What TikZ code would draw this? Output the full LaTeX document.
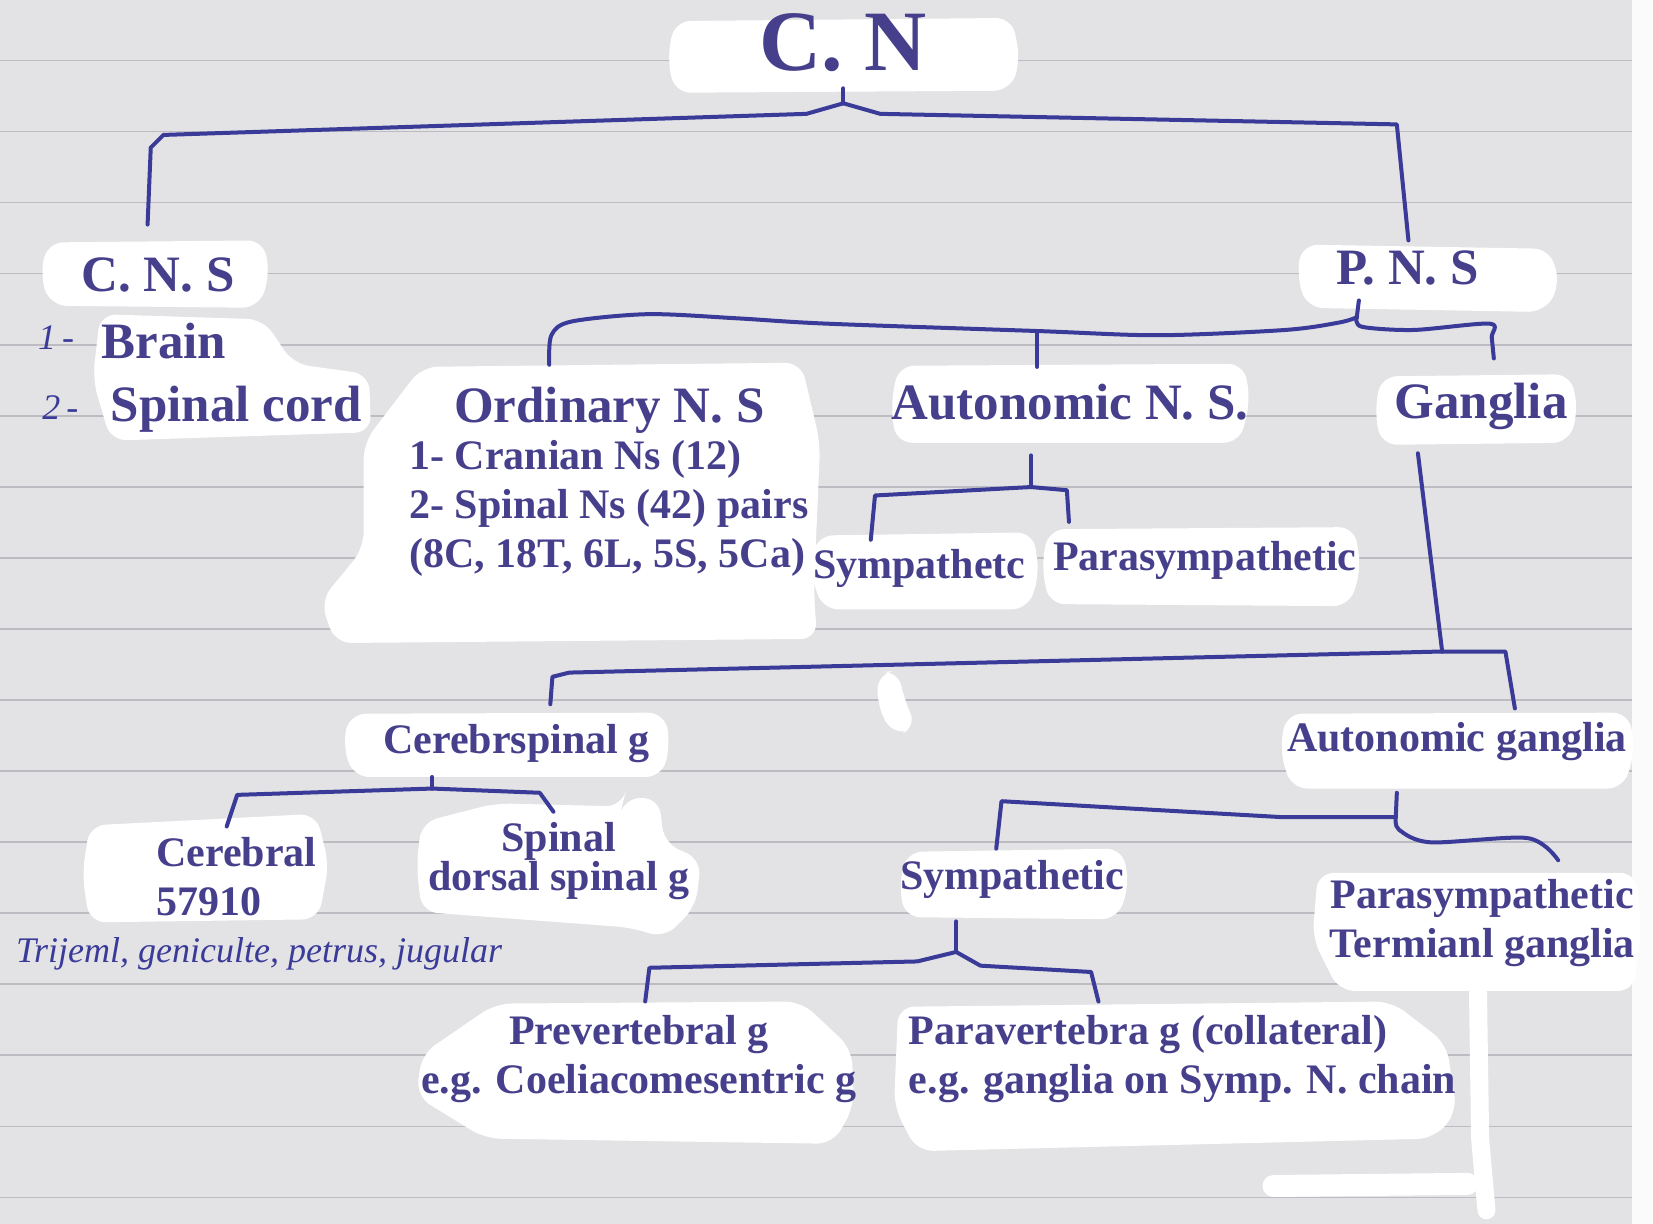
\documentclass[tikz,border=0pt]{standalone}
\usepackage{fontspec}
\setmainfont{Liberation Serif}
\definecolor{paper}{HTML}{E3E3E6}
\definecolor{ruling}{HTML}{BCBCC2}
\definecolor{ink}{HTML}{463F8C}
\definecolor{pen}{HTML}{3A3A98}
\tikzset{
  blob/.style={fill=white, rounded corners=16pt},
  lbl/.style={text=ink, inner sep=0pt, yshift=-4pt, font=\bfseries\fontsize{42}{49}\selectfont},
  big/.style={lbl, font=\bfseries\fontsize{51}{58}\selectfont},
  hand/.style={text=pen, inner sep=0pt, font=\itshape\fontsize{36}{38}\selectfont},
  conn/.style={draw=pen, line width=4pt, line join=round, line cap=round},
}
\begin{document}
\begin{tikzpicture}[x=1.054pt, y=-1.054pt]
    \useasboundingbox (0,0) rectangle (1568,1161);
    % paper
    \fill[paper] (0,0) rectangle (1568,1161);
    \fill[white!85!paper] (1548,0) rectangle (1568,1161);
    \foreach \k in {0,...,16}
        \draw[ruling, line width=1.6pt] (0,57.4+67.4*\k) -- (1548,57.4+67.4*\k);
    % white patches
    \fill[blob] (640,20) -- (960,17) -- (968,58) -- (958,86) -- (640,88) -- (633,55) -- cycle;
    \fill[blob] (45,230) -- (250,228) -- (256,262) -- (245,292) -- (48,290) -- (38,262) -- cycle;
    \fill[blob] (95,298) -- (250,303) -- (278,345) -- (350,355) -- (352,410) -- (105,418) -- (88,360) -- cycle;
    \fill[blob] (400,348) -- (760,344) -- (778,420) -- (772,560) -- (775,606) -- (318,610) -- (304,570) -- (345,520) -- (345,420) -- cycle;
    \fill[blob] (852,347) -- (1180,345) -- (1186,380) -- (1176,420) -- (850,420) -- (845,385) -- cycle;
    \fill[blob] (1310,357) -- (1490,355) -- (1497,390) -- (1488,420) -- (1310,422) -- (1304,390) -- cycle;
    \fill[blob] (1235,232) -- (1470,236) -- (1480,270) -- (1465,296) -- (1240,292) -- (1230,262) -- cycle;
    \fill[blob] (775,508) -- (980,505) -- (986,545) -- (975,578) -- (780,578) -- (768,540) -- cycle;
    \fill[blob] (995,502) -- (1285,500) -- (1291,540) -- (1280,575) -- (995,573) -- (988,535) -- cycle;
    \fill[blob] (332,677) -- (630,676) -- (636,705) -- (628,737) -- (335,737) -- (325,705) -- cycle;
    \fill[blob] (833,638) -- (852,636) -- (858,665) -- (870,690) -- (848,698) -- (832,670) -- cycle;
    \fill[blob] (85,783) -- (300,772) -- (312,820) -- (302,872) -- (85,875) -- (78,830) -- cycle;
    \fill[blob] (400,780) -- (470,762) -- (590,765) -- (592,757) -- (625,757) -- (630,800) -- (665,815) -- (660,860) -- (630,890) -- (600,880) -- (400,865) -- (395,820) -- cycle;
    \fill[blob] (1220,677) -- (1545,676) -- (1551,712) -- (1540,748) -- (1225,748) -- (1214,712) -- cycle;
    \fill[blob] (860,808) -- (1065,805) -- (1071,840) -- (1060,872) -- (858,870) -- (853,838) -- cycle;
    \fill[blob] (1250,828) -- (1552,828) -- (1557,880) -- (1550,940) -- (1270,940) -- (1245,890) -- cycle;
    \fill[blob] (470,952) -- (760,950) -- (808,995) -- (810,1050) -- (790,1085) -- (460,1080) -- (395,1040) -- (400,1000) -- cycle;
    \fill[blob] (852,955) -- (1320,950) -- (1372,990) -- (1382,1055) -- (1360,1080) -- (870,1092) -- (848,1050) -- cycle;
    \draw[white, line width=18pt, line cap=round] (1402,942) -- (1404,1080) -- (1410,1148);
    \draw[white, line width=22pt, line cap=round] (1208,1125) -- (1392,1123);
    % labels
    \node[lbl, font=\bfseries\fontsize{86}{90}\selectfont] (cn) at (800,37) {C. N};
    \node[lbl, font=\bfseries\fontsize{51}{55}\selectfont] (cns) at (150,257) {C. N. S};
    \node[lbl, font=\bfseries\fontsize{51}{55}\selectfont] (pns) at (1335,250) {P. N. S};
    \node[hand, anchor=west] (one) at (36,320) {1\,-};
    \node[big, anchor=west] (brain) at (96,320) {Brain};
    \node[hand, anchor=west] (two) at (40,387) {2\,-};
    \node[big, anchor=west] (spcord) at (105,384) {Spinal cord};
    \node[big] (ons) at (578,385) {Ordinary N. S};
    \node[lbl, anchor=north west, align=left] (onslist) at (388,414)
        {1- Cranian Ns (12)\\2- Spinal Ns (42) pairs\\(8C, 18T, 6L, 5S, 5Ca)};
    \node[big] (ans) at (1015,378) {Autonomic N. S.};
    \node[big] (gang) at (1405,382) {Ganglia};
    \node[lbl] (symA) at (872,535) {Sympathetc};
    \node[lbl] (paraA) at (1143,528) {Parasympathetic};
    \node[lbl] (csg) at (490,702) {Cerebrspinal g};
    \node[lbl, anchor=west, align=left] (cereb) at (148,828) {Cerebral\\57910};
    \node[lbl, align=center, font=\bfseries\fontsize{42}{39}\selectfont] (spin) at (530,813) {Spinal\\dorsal spinal g};
    \node[hand, anchor=west] (trig) at (15,905) {Trijeml, geniculte, petrus, jugular};
    \node[lbl] (autg) at (1382,700) {Autonomic ganglia};
    \node[lbl, align=center] (paraB) at (1406,872) {Parasympathetic\\Termianl ganglia};
    \node[lbl] (symB) at (960,830) {Sympathetic};
    \node[lbl, align=center] (prev) at (606,1001) {Prevertebral g\\e.g. Coeliacomesentric g};
    \node[lbl, anchor=west, align=left] (parav) at (862,1001) {Paravertebra g (collateral)\\e.g. ganglia on Symp. N. chain};
    % branch ends
    \coordinate (jTop) at (800,98);
    \coordinate (cnsE) at (140,213);
    \coordinate (pnsE) at (1336,228);
    \coordinate (jP) at (1287,301);
    \coordinate (onsE) at (521,346);
    \coordinate (ansE) at (984,348);
    \coordinate (gangE) at (1417,340);
    \coordinate (jA) at (978,462);
    \coordinate (symAE) at (826,512);
    \coordinate (paraAE) at (1014,495);
    \coordinate (jG) at (1368,618);
    \coordinate (csgE) at (522,668);
    \coordinate (autgE) at (1437,672);
    \coordinate (jC) at (410,748);
    \coordinate (cerebE) at (215,784);
    \coordinate (spinE) at (525,770);
    \coordinate (jAG) at (1324,775);
    \coordinate (symBE) at (945,805);
    \coordinate (paraBE) at (1478,816);
    \coordinate (jS) at (907,903);
    \coordinate (prevE) at (612,950);
    \coordinate (paravE) at (1042,950);
    % connectors
    \draw[conn, shorten <=16pt] (cn.south) -- (jTop);
    \draw[conn] (jTop) -- (765,108) -- (155,128) -- (143,140) -- (cnsE);
    \draw[conn] (jTop) -- (835,108) -- (1325,118) -- (pnsE);
    \draw[conn] (1289,285) -- (jP);
    \draw[conn] plot[smooth, tension=0.5] coordinates {(onsE) (523,318) (542,305) (615,298) (700,302) (784,307) (984,314) (1099,318) (1219,313) (1270,306) (jP)};
    \draw[conn] (984,314) -- (ansE);
    \draw[conn] plot[smooth, tension=0.5] coordinates {(jP) (1292,310) (1341,313) (1413,307) (1415,320) (gangE)};
    \draw[conn] (978,432) -- (jA);
    \draw[conn] (jA) -- (830,470) -- (symAE);
    \draw[conn] (jA) -- (1012,465) -- (paraAE);
    \draw[conn] (1345,430) -- (jG);
    \draw[conn] (jG) -- (540,638) -- (524,642) -- (csgE);
    \draw[conn] (jG) -- (1428,618) -- (autgE);
    \draw[conn] (410,737) -- (jC);
    \draw[conn] (jC) -- (225,754) -- (cerebE);
    \draw[conn] (jC) -- (512,752) -- (spinE);
    \draw[conn] (1325,752) -- (jAG);
    \draw[conn] (jAG) -- (1214,775) -- (950,760) -- (symBE);
    \draw[conn] plot[smooth, tension=0.5] coordinates {(jAG) (1327,787) (1357,799) (1449,795) (paraBE)};
    \draw[conn] (907,874) -- (jS);
    \draw[conn] (jS) -- (870,912) -- (616,918) -- (prevE);
    \draw[conn] (jS) -- (930,916) -- (1035,922) -- (paravE);
\end{tikzpicture}
\end{document}
